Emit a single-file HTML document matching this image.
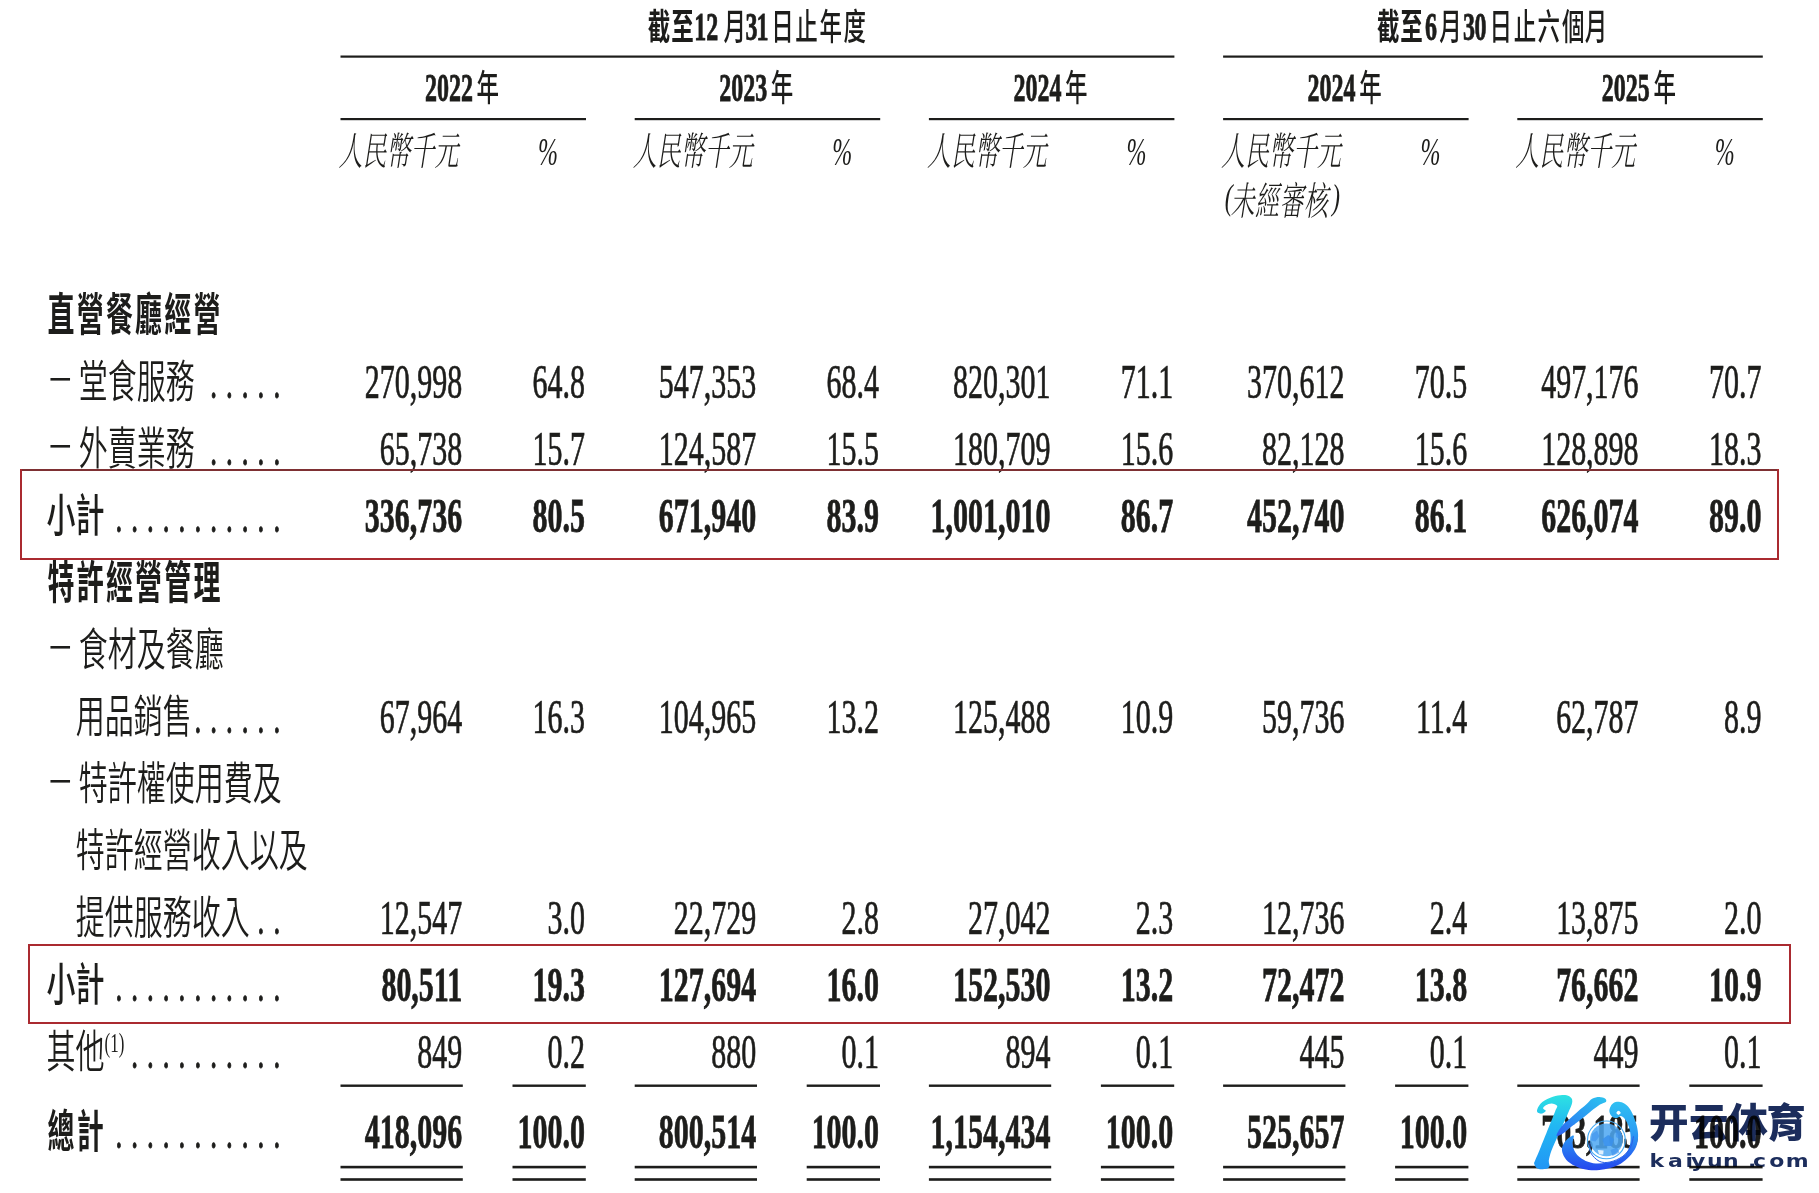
<!DOCTYPE html>
<html lang="zh-Hant"><head><meta charset="utf-8"><title>收入明細</title>
<style>
html,body{margin:0;padding:0;background:#fff;overflow:hidden;}
svg{display:block;}
text{fill:#1d1d1b;}
.n{font-family:"Liberation Serif","Noto Serif CJK TC",serif;font-size:30px;stroke:#1d1d1b;stroke-width:0.45px;}
.nb{font-family:"Liberation Serif","Noto Serif CJK TC",serif;font-size:30px;font-weight:700;stroke:#1d1d1b;stroke-width:0.5px;}
.hc{font-family:"Liberation Sans","Noto Sans CJK TC",sans-serif;font-size:22.5px;font-weight:700;}
.hd{font-family:"Liberation Serif",serif;font-size:24.0px;font-weight:700;stroke:#1d1d1b;stroke-width:0.5px;}
.hm{font-weight:500;}
.par{font-family:"Liberation Serif",serif;font-size:24px;font-style:italic;}
.sub{font-family:"Liberation Serif","Noto Serif CJK TC",serif;font-size:24px;font-style:italic;font-weight:300;}
.pct{font-family:"Liberation Serif",serif;font-size:24px;font-style:italic;}
.l{font-family:"Liberation Sans","Noto Sans CJK TC",sans-serif;font-size:29px;font-weight:350;}
.lm{font-family:"Liberation Sans","Noto Sans CJK TC",sans-serif;font-size:29px;font-weight:500;}
.lb{font-family:"Liberation Sans","Noto Sans CJK TC",sans-serif;font-size:27px;font-weight:700;letter-spacing:2.2px;}
.dash{font-family:"Liberation Sans","Noto Sans CJK TC",sans-serif;font-size:27px;font-weight:400;}
.sup{font-family:"Liberation Serif",serif;font-size:17px;}
.dot{font-family:"Liberation Serif",serif;font-size:27px;font-weight:400;stroke:#1d1d1b;stroke-width:0.6px;}
.wmc{font-family:"Liberation Sans","Noto Sans CJK SC",sans-serif;font-size:39.5px;font-weight:900;fill:#1c2d5c;mix-blend-mode:multiply;}
.wme{font-family:"DejaVu Sans","Liberation Sans",sans-serif;font-size:22px;font-weight:700;fill:#1c2d5c;mix-blend-mode:multiply;}
</style></head>
<body>
<svg width="1819" height="1193" viewBox="0 0 1819 1193">
<rect width="1819" height="1193" fill="#fff"/>
<text class="hc" transform="translate(0 39.7) scale(1 1.63)"><tspan x="647.7">截</tspan><tspan x="671.3">至</tspan><tspan class="hd" x="694.3">1</tspan><tspan class="hd" x="706.2">2</tspan><tspan class="hm" x="723.6">月</tspan><tspan class="hd" x="745.5">3</tspan><tspan class="hd" x="756.6">1</tspan><tspan class="hm" x="771.3">日</tspan><tspan class="hm" x="795.2">止</tspan><tspan class="hm" x="819.6">年</tspan><tspan class="hm" x="843.5">度</tspan></text>
<text class="hc" transform="translate(0 39.7) scale(1 1.63)"><tspan x="1377.0">截</tspan><tspan x="1400.2">至</tspan><tspan class="hd" x="1425.1">6</tspan><tspan class="hm" x="1439.3">月</tspan><tspan class="hd" x="1463.0">3</tspan><tspan class="hd" x="1474.4">0</tspan><tspan class="hm" x="1489.5">日</tspan><tspan class="hm" x="1513.8">止</tspan><tspan class="hm" x="1537.6">六</tspan><tspan class="hm" x="1561.9">個</tspan><tspan class="hm" x="1584.7">月</tspan></text>
<rect x="340.5" y="55.5" width="833.9" height="2.2" fill="#1d1d1b"/>
<rect x="1223.1" y="55.5" width="539.7" height="2.2" fill="#1d1d1b"/>
<text class="hc" transform="translate(0 101.4) scale(1 1.63)"><tspan class="hd" x="425.0">2022</tspan><tspan class="hm" x="476.6">年</tspan></text>
<rect x="340.5" y="118.0" width="245.5" height="2.2" fill="#1d1d1b"/>
<text class="sub" transform="translate(338.5 164.5) scale(1 1.63)">人民幣千元</text>
<text class="pct" transform="translate(538.0 164.5) scale(1 1.63)">%</text>
<text class="hc" transform="translate(0 101.4) scale(1 1.63)"><tspan class="hd" x="719.2">2023</tspan><tspan class="hm" x="770.8">年</tspan></text>
<rect x="634.7" y="118.0" width="245.5" height="2.2" fill="#1d1d1b"/>
<text class="sub" transform="translate(632.7 164.5) scale(1 1.63)">人民幣千元</text>
<text class="pct" transform="translate(832.2 164.5) scale(1 1.63)">%</text>
<text class="hc" transform="translate(0 101.4) scale(1 1.63)"><tspan class="hd" x="1013.4">2024</tspan><tspan class="hm" x="1065.0">年</tspan></text>
<rect x="928.9" y="118.0" width="245.5" height="2.2" fill="#1d1d1b"/>
<text class="sub" transform="translate(926.9 164.5) scale(1 1.63)">人民幣千元</text>
<text class="pct" transform="translate(1126.4 164.5) scale(1 1.63)">%</text>
<text class="hc" transform="translate(0 101.4) scale(1 1.63)"><tspan class="hd" x="1307.6">2024</tspan><tspan class="hm" x="1359.2">年</tspan></text>
<rect x="1223.1" y="118.0" width="245.5" height="2.2" fill="#1d1d1b"/>
<text class="sub" transform="translate(1221.1 164.5) scale(1 1.63)">人民幣千元</text>
<text class="pct" transform="translate(1420.6 164.5) scale(1 1.63)">%</text>
<text class="hc" transform="translate(0 101.4) scale(1 1.63)"><tspan class="hd" x="1601.8">2025</tspan><tspan class="hm" x="1653.4">年</tspan></text>
<rect x="1517.3" y="118.0" width="245.5" height="2.2" fill="#1d1d1b"/>
<text class="sub" transform="translate(1515.3 164.5) scale(1 1.63)">人民幣千元</text>
<text class="pct" transform="translate(1714.8 164.5) scale(1 1.63)">%</text>
<text class="par" transform="translate(1224.8 208.6) scale(1 1.5)">(</text>
<text class="sub" transform="translate(1230.6 215.0) scale(1 1.63)" letter-spacing="0.5">未經審核</text>
<text class="par" transform="translate(1331.9 208.6) scale(1 1.5)">)</text>
<text class="lb" transform="translate(47.5 331.0) scale(1 1.6755555555555557)">直營餐廳經營</text>
<text class="dash" transform="translate(46.8 393.1) scale(1 1.4)">－</text>
<text class="l" transform="translate(78.7 398.0) scale(1 1.56)">堂食服務</text>
<text class="dot" transform="translate(0 398) scale(1 1.63)" x="210.2 226.0 241.8 257.6 273.4" y="0">.....</text>
<text class="n" transform="translate(462.2 398.0) scale(1 1.63)" text-anchor="end">270,998</text>
<text class="n" transform="translate(585.0 398.0) scale(1 1.63)" text-anchor="end">64.8</text>
<text class="n" transform="translate(756.3 398.0) scale(1 1.63)" text-anchor="end">547,353</text>
<text class="n" transform="translate(879.1 398.0) scale(1 1.63)" text-anchor="end">68.4</text>
<text class="n" transform="translate(1050.4 398.0) scale(1 1.63)" text-anchor="end">820,301</text>
<text class="n" transform="translate(1173.2 398.0) scale(1 1.63)" text-anchor="end">71.1</text>
<text class="n" transform="translate(1344.5 398.0) scale(1 1.63)" text-anchor="end">370,612</text>
<text class="n" transform="translate(1467.3 398.0) scale(1 1.63)" text-anchor="end">70.5</text>
<text class="n" transform="translate(1638.6 398.0) scale(1 1.63)" text-anchor="end">497,176</text>
<text class="n" transform="translate(1761.4 398.0) scale(1 1.63)" text-anchor="end">70.7</text>
<text class="dash" transform="translate(46.8 460.1) scale(1 1.4)">－</text>
<text class="l" transform="translate(78.7 465.0) scale(1 1.56)">外賣業務</text>
<text class="dot" transform="translate(0 465) scale(1 1.63)" x="210.2 226.0 241.8 257.6 273.4" y="0">.....</text>
<text class="n" transform="translate(462.2 465.0) scale(1 1.63)" text-anchor="end">65,738</text>
<text class="n" transform="translate(585.0 465.0) scale(1 1.63)" text-anchor="end">15.7</text>
<text class="n" transform="translate(756.3 465.0) scale(1 1.63)" text-anchor="end">124,587</text>
<text class="n" transform="translate(879.1 465.0) scale(1 1.63)" text-anchor="end">15.5</text>
<text class="n" transform="translate(1050.4 465.0) scale(1 1.63)" text-anchor="end">180,709</text>
<text class="n" transform="translate(1173.2 465.0) scale(1 1.63)" text-anchor="end">15.6</text>
<text class="n" transform="translate(1344.5 465.0) scale(1 1.63)" text-anchor="end">82,128</text>
<text class="n" transform="translate(1467.3 465.0) scale(1 1.63)" text-anchor="end">15.6</text>
<text class="n" transform="translate(1638.6 465.0) scale(1 1.63)" text-anchor="end">128,898</text>
<text class="n" transform="translate(1761.4 465.0) scale(1 1.63)" text-anchor="end">18.3</text>
<text class="lm" transform="translate(46.5 532.0) scale(1 1.56)">小計</text>
<text class="dot" transform="translate(0 532) scale(1 1.63)" x="115.4 131.2 147.0 162.8 178.6 194.4 210.2 226.0 241.8 257.6 273.4" y="0">...........</text>
<text class="nb" transform="translate(462.2 532.0) scale(1 1.63)" text-anchor="end">336,736</text>
<text class="nb" transform="translate(585.0 532.0) scale(1 1.63)" text-anchor="end">80.5</text>
<text class="nb" transform="translate(756.3 532.0) scale(1 1.63)" text-anchor="end">671,940</text>
<text class="nb" transform="translate(879.1 532.0) scale(1 1.63)" text-anchor="end">83.9</text>
<text class="nb" transform="translate(1050.4 532.0) scale(1 1.63)" text-anchor="end">1,001,010</text>
<text class="nb" transform="translate(1173.2 532.0) scale(1 1.63)" text-anchor="end">86.7</text>
<text class="nb" transform="translate(1344.5 532.0) scale(1 1.63)" text-anchor="end">452,740</text>
<text class="nb" transform="translate(1467.3 532.0) scale(1 1.63)" text-anchor="end">86.1</text>
<text class="nb" transform="translate(1638.6 532.0) scale(1 1.63)" text-anchor="end">626,074</text>
<text class="nb" transform="translate(1761.4 532.0) scale(1 1.63)" text-anchor="end">89.0</text>
<text class="lb" transform="translate(47.5 599.0) scale(1 1.6755555555555557)">特許經營管理</text>
<text class="dash" transform="translate(46.8 661.1) scale(1 1.4)">－</text>
<text class="l" transform="translate(78.7 666.0) scale(1 1.56)">食材及餐廳</text>
<text class="l" transform="translate(75.8 733.0) scale(1 1.56)">用品銷售</text>
<text class="dot" transform="translate(0 733) scale(1 1.63)" x="194.4 210.2 226.0 241.8 257.6 273.4" y="0">......</text>
<text class="n" transform="translate(462.2 733.0) scale(1 1.63)" text-anchor="end">67,964</text>
<text class="n" transform="translate(585.0 733.0) scale(1 1.63)" text-anchor="end">16.3</text>
<text class="n" transform="translate(756.3 733.0) scale(1 1.63)" text-anchor="end">104,965</text>
<text class="n" transform="translate(879.1 733.0) scale(1 1.63)" text-anchor="end">13.2</text>
<text class="n" transform="translate(1050.4 733.0) scale(1 1.63)" text-anchor="end">125,488</text>
<text class="n" transform="translate(1173.2 733.0) scale(1 1.63)" text-anchor="end">10.9</text>
<text class="n" transform="translate(1344.5 733.0) scale(1 1.63)" text-anchor="end">59,736</text>
<text class="n" transform="translate(1467.3 733.0) scale(1 1.63)" text-anchor="end">11.4</text>
<text class="n" transform="translate(1638.6 733.0) scale(1 1.63)" text-anchor="end">62,787</text>
<text class="n" transform="translate(1761.4 733.0) scale(1 1.63)" text-anchor="end">8.9</text>
<text class="dash" transform="translate(46.8 795.1) scale(1 1.4)">－</text>
<text class="l" transform="translate(78.7 800.0) scale(1 1.56)">特許權使用費及</text>
<text class="l" transform="translate(75.8 867.0) scale(1 1.56)">特許經營收入以及</text>
<text class="l" transform="translate(75.8 934.0) scale(1 1.56)">提供服務收入</text>
<text class="dot" transform="translate(0 934) scale(1 1.63)" x="257.6 273.4" y="0">..</text>
<text class="n" transform="translate(462.2 934.0) scale(1 1.63)" text-anchor="end">12,547</text>
<text class="n" transform="translate(585.0 934.0) scale(1 1.63)" text-anchor="end">3.0</text>
<text class="n" transform="translate(756.3 934.0) scale(1 1.63)" text-anchor="end">22,729</text>
<text class="n" transform="translate(879.1 934.0) scale(1 1.63)" text-anchor="end">2.8</text>
<text class="n" transform="translate(1050.4 934.0) scale(1 1.63)" text-anchor="end">27,042</text>
<text class="n" transform="translate(1173.2 934.0) scale(1 1.63)" text-anchor="end">2.3</text>
<text class="n" transform="translate(1344.5 934.0) scale(1 1.63)" text-anchor="end">12,736</text>
<text class="n" transform="translate(1467.3 934.0) scale(1 1.63)" text-anchor="end">2.4</text>
<text class="n" transform="translate(1638.6 934.0) scale(1 1.63)" text-anchor="end">13,875</text>
<text class="n" transform="translate(1761.4 934.0) scale(1 1.63)" text-anchor="end">2.0</text>
<text class="lm" transform="translate(46.5 1001.0) scale(1 1.56)">小計</text>
<text class="dot" transform="translate(0 1001) scale(1 1.63)" x="115.4 131.2 147.0 162.8 178.6 194.4 210.2 226.0 241.8 257.6 273.4" y="0">...........</text>
<text class="nb" transform="translate(462.2 1001.0) scale(1 1.63)" text-anchor="end">80,511</text>
<text class="nb" transform="translate(585.0 1001.0) scale(1 1.63)" text-anchor="end">19.3</text>
<text class="nb" transform="translate(756.3 1001.0) scale(1 1.63)" text-anchor="end">127,694</text>
<text class="nb" transform="translate(879.1 1001.0) scale(1 1.63)" text-anchor="end">16.0</text>
<text class="nb" transform="translate(1050.4 1001.0) scale(1 1.63)" text-anchor="end">152,530</text>
<text class="nb" transform="translate(1173.2 1001.0) scale(1 1.63)" text-anchor="end">13.2</text>
<text class="nb" transform="translate(1344.5 1001.0) scale(1 1.63)" text-anchor="end">72,472</text>
<text class="nb" transform="translate(1467.3 1001.0) scale(1 1.63)" text-anchor="end">13.8</text>
<text class="nb" transform="translate(1638.6 1001.0) scale(1 1.63)" text-anchor="end">76,662</text>
<text class="nb" transform="translate(1761.4 1001.0) scale(1 1.63)" text-anchor="end">10.9</text>
<text class="l" transform="translate(46.5 1068.0) scale(1 1.56)">其他</text>
<text class="sup" transform="translate(104.6 1052.0) scale(1 1.63)">(1)</text>
<text class="dot" transform="translate(0 1068) scale(1 1.63)" x="131.2 147.0 162.8 178.6 194.4 210.2 226.0 241.8 257.6 273.4" y="0">..........</text>
<text class="n" transform="translate(462.2 1068.0) scale(1 1.63)" text-anchor="end">849</text>
<text class="n" transform="translate(585.0 1068.0) scale(1 1.63)" text-anchor="end">0.2</text>
<text class="n" transform="translate(756.3 1068.0) scale(1 1.63)" text-anchor="end">880</text>
<text class="n" transform="translate(879.1 1068.0) scale(1 1.63)" text-anchor="end">0.1</text>
<text class="n" transform="translate(1050.4 1068.0) scale(1 1.63)" text-anchor="end">894</text>
<text class="n" transform="translate(1173.2 1068.0) scale(1 1.63)" text-anchor="end">0.1</text>
<text class="n" transform="translate(1344.5 1068.0) scale(1 1.63)" text-anchor="end">445</text>
<text class="n" transform="translate(1467.3 1068.0) scale(1 1.63)" text-anchor="end">0.1</text>
<text class="n" transform="translate(1638.6 1068.0) scale(1 1.63)" text-anchor="end">449</text>
<text class="n" transform="translate(1761.4 1068.0) scale(1 1.63)" text-anchor="end">0.1</text>
<text class="lb" transform="translate(47.5 1148.0) scale(1 1.6755555555555557)">總計</text>
<text class="dot" transform="translate(0 1148) scale(1 1.63)" x="115.4 131.2 147.0 162.8 178.6 194.4 210.2 226.0 241.8 257.6 273.4" y="0">...........</text>
<text class="nb" transform="translate(462.2 1148.0) scale(1 1.63)" text-anchor="end">418,096</text>
<text class="nb" transform="translate(585.0 1148.0) scale(1 1.63)" text-anchor="end">100.0</text>
<text class="nb" transform="translate(756.3 1148.0) scale(1 1.63)" text-anchor="end">800,514</text>
<text class="nb" transform="translate(879.1 1148.0) scale(1 1.63)" text-anchor="end">100.0</text>
<text class="nb" transform="translate(1050.4 1148.0) scale(1 1.63)" text-anchor="end">1,154,434</text>
<text class="nb" transform="translate(1173.2 1148.0) scale(1 1.63)" text-anchor="end">100.0</text>
<text class="nb" transform="translate(1344.5 1148.0) scale(1 1.63)" text-anchor="end">525,657</text>
<text class="nb" transform="translate(1467.3 1148.0) scale(1 1.63)" text-anchor="end">100.0</text>
<text class="nb" transform="translate(1638.6 1148.0) scale(1 1.63)" text-anchor="end">703,185</text>
<text class="nb" transform="translate(1761.4 1148.0) scale(1 1.63)" text-anchor="end">100.0</text>
<rect x="340.5" y="1084.5" width="122.3" height="2.4" fill="#1d1d1b"/>
<rect x="512.5" y="1084.5" width="73.3" height="2.4" fill="#1d1d1b"/>
<rect x="340.5" y="1165.8" width="122.3" height="2.6" fill="#1d1d1b"/>
<rect x="512.5" y="1165.8" width="73.3" height="2.6" fill="#1d1d1b"/>
<rect x="340.5" y="1178.2" width="122.3" height="2.6" fill="#1d1d1b"/>
<rect x="512.5" y="1178.2" width="73.3" height="2.6" fill="#1d1d1b"/>
<rect x="634.7" y="1084.5" width="122.3" height="2.4" fill="#1d1d1b"/>
<rect x="806.7" y="1084.5" width="73.3" height="2.4" fill="#1d1d1b"/>
<rect x="634.7" y="1165.8" width="122.3" height="2.6" fill="#1d1d1b"/>
<rect x="806.7" y="1165.8" width="73.3" height="2.6" fill="#1d1d1b"/>
<rect x="634.7" y="1178.2" width="122.3" height="2.6" fill="#1d1d1b"/>
<rect x="806.7" y="1178.2" width="73.3" height="2.6" fill="#1d1d1b"/>
<rect x="928.9" y="1084.5" width="122.3" height="2.4" fill="#1d1d1b"/>
<rect x="1100.9" y="1084.5" width="73.3" height="2.4" fill="#1d1d1b"/>
<rect x="928.9" y="1165.8" width="122.3" height="2.6" fill="#1d1d1b"/>
<rect x="1100.9" y="1165.8" width="73.3" height="2.6" fill="#1d1d1b"/>
<rect x="928.9" y="1178.2" width="122.3" height="2.6" fill="#1d1d1b"/>
<rect x="1100.9" y="1178.2" width="73.3" height="2.6" fill="#1d1d1b"/>
<rect x="1223.1" y="1084.5" width="122.3" height="2.4" fill="#1d1d1b"/>
<rect x="1395.1" y="1084.5" width="73.3" height="2.4" fill="#1d1d1b"/>
<rect x="1223.1" y="1165.8" width="122.3" height="2.6" fill="#1d1d1b"/>
<rect x="1395.1" y="1165.8" width="73.3" height="2.6" fill="#1d1d1b"/>
<rect x="1223.1" y="1178.2" width="122.3" height="2.6" fill="#1d1d1b"/>
<rect x="1395.1" y="1178.2" width="73.3" height="2.6" fill="#1d1d1b"/>
<rect x="1517.3" y="1084.5" width="122.3" height="2.4" fill="#1d1d1b"/>
<rect x="1689.3" y="1084.5" width="73.3" height="2.4" fill="#1d1d1b"/>
<rect x="1517.3" y="1165.8" width="122.3" height="2.6" fill="#1d1d1b"/>
<rect x="1689.3" y="1165.8" width="73.3" height="2.6" fill="#1d1d1b"/>
<rect x="1517.3" y="1178.2" width="122.3" height="2.6" fill="#1d1d1b"/>
<rect x="1689.3" y="1178.2" width="73.3" height="2.6" fill="#1d1d1b"/>
<rect x="20.0" y="469.0" width="1759.0" height="2.0" fill="#7e3033"/>
<rect x="20.0" y="558.0" width="1759.0" height="2.0" fill="#aa2a30"/>
<rect x="20.0" y="469.0" width="2.0" height="91.0" fill="#aa2a30"/>
<rect x="1777.0" y="469.0" width="2.0" height="91.0" fill="#aa2a30"/>
<rect x="28.0" y="944.0" width="1763.0" height="2.0" fill="#aa2a30"/>
<rect x="28.0" y="1022.0" width="1763.0" height="2.0" fill="#aa2a30"/>
<rect x="28.0" y="944.0" width="2.0" height="80.0" fill="#aa2a30"/>
<rect x="1789.0" y="944.0" width="2.0" height="80.0" fill="#aa2a30"/>

<defs>
<linearGradient id="gStem" x1="0" y1="0" x2="0" y2="1">
 <stop offset="0" stop-color="#2de2e2"/><stop offset="0.4" stop-color="#22b8f2"/><stop offset="1" stop-color="#2196f5"/>
</linearGradient>
<linearGradient id="gArm" x1="1" y1="0" x2="0" y2="1">
 <stop offset="0" stop-color="#2cc4ef"/><stop offset="0.6" stop-color="#2a90f2"/><stop offset="1" stop-color="#2c5ff0"/>
</linearGradient>
<linearGradient id="gLeg" x1="0" y1="0" x2="0" y2="1">
 <stop offset="0" stop-color="#30c0f2"/><stop offset="0.45" stop-color="#2a9cf4"/><stop offset="1" stop-color="#2446ee"/>
</linearGradient>
</defs>
<g>
<path fill="url(#gStem)" d="M1537.3 1109.2 C1538.0 1107.5 1539.6 1104.2 1542.3 1102.1 C1544.9 1100.0 1549.6 1098.0 1552.9 1096.8 C1556.3 1095.6 1559.5 1095.1 1562.2 1095.0 C1564.9 1094.9 1567.7 1095.1 1569.3 1096.3 C1571.0 1097.4 1572.6 1098.9 1572.3 1101.8 C1572.1 1104.6 1570.2 1108.1 1567.9 1113.5 C1565.6 1118.9 1561.4 1128.0 1558.6 1134.2 C1555.9 1140.4 1553.2 1146.2 1551.5 1150.6 C1549.9 1155.0 1549.2 1157.9 1548.8 1160.6 C1548.5 1163.2 1550.0 1165.2 1549.4 1166.6 C1548.8 1168.0 1547.1 1168.8 1545.1 1169.1 C1543.1 1169.4 1539.1 1169.2 1537.3 1168.4 C1535.5 1167.6 1534.6 1165.4 1534.3 1164.1 C1533.9 1162.8 1534.0 1163.4 1535.1 1160.6 C1536.2 1157.7 1538.5 1152.8 1540.8 1147.0 C1543.2 1141.2 1547.0 1131.6 1549.4 1125.6 C1551.8 1119.7 1553.8 1114.7 1555.1 1111.4 C1556.4 1108.1 1557.7 1107.1 1557.1 1105.8 C1556.5 1104.5 1553.4 1103.6 1551.5 1103.5 C1549.6 1103.5 1547.2 1104.5 1545.8 1105.3 C1544.4 1106.1 1543.1 1107.5 1543.1 1108.4 C1543.1 1109.3 1546.0 1109.8 1545.8 1110.7 C1545.7 1111.5 1543.6 1113.2 1542.3 1113.5 C1540.9 1113.9 1538.8 1113.5 1538.0 1112.8 C1537.1 1112.1 1536.6 1111.0 1537.3 1109.2 Z"/>
<path fill="url(#gArm)" d="M1556.5 1135.6 C1556.3 1134.4 1559.2 1129.2 1561.5 1126.4 C1563.8 1123.5 1567.3 1121.0 1570.1 1118.5 C1572.8 1116.0 1575.2 1113.8 1577.9 1111.4 C1580.6 1109.0 1584.1 1106.4 1586.4 1104.3 C1588.8 1102.1 1590.0 1099.9 1592.1 1098.7 C1594.3 1097.5 1597.1 1097.0 1599.3 1097.0 C1601.5 1097.0 1604.2 1097.9 1605.3 1098.7 C1606.4 1099.5 1606.7 1101.0 1605.8 1102.0 C1604.9 1103.0 1602.5 1103.0 1600.0 1104.6 C1597.5 1106.2 1593.7 1109.1 1590.7 1111.4 C1587.8 1113.7 1585.3 1116.1 1582.2 1118.5 C1579.1 1120.9 1575.5 1123.4 1572.2 1126.0 C1568.9 1128.5 1565.2 1132.2 1562.6 1133.8 C1560.0 1135.4 1556.7 1136.9 1556.5 1135.6 Z"/>
<path fill="url(#gLeg)" fill-rule="evenodd" d="M1573.6 1135.6 C1572.6 1135.0 1568.4 1138.0 1566.5 1139.9 C1564.6 1141.8 1562.8 1144.6 1562.2 1147.0 C1561.6 1149.4 1562.0 1151.7 1562.9 1154.1 C1563.9 1156.6 1565.4 1159.4 1567.9 1161.6 C1570.4 1163.8 1574.4 1165.9 1577.9 1167.3 C1581.3 1168.7 1585.0 1169.5 1588.6 1170.0 C1592.1 1170.4 1595.7 1170.4 1599.3 1170.1 C1602.8 1169.8 1606.4 1169.0 1610.0 1168.0 C1613.5 1166.9 1617.4 1165.6 1620.7 1163.7 C1623.9 1161.8 1627.0 1159.1 1629.6 1156.3 C1632.1 1153.5 1634.6 1150.3 1636.0 1147.0 C1637.4 1143.7 1638.0 1139.9 1638.1 1136.3 C1638.2 1132.8 1637.6 1129.4 1636.7 1125.6 C1635.7 1121.8 1634.1 1116.9 1632.4 1113.5 C1630.8 1110.1 1628.8 1107.2 1626.7 1105.3 C1624.6 1103.4 1622.2 1102.3 1619.9 1102.0 C1617.7 1101.6 1614.8 1102.2 1613.2 1103.2 C1611.5 1104.2 1610.6 1106.3 1610.0 1107.8 C1609.4 1109.4 1609.2 1110.9 1609.6 1112.5 C1610.0 1114.0 1611.2 1116.0 1612.5 1116.9 C1613.7 1117.9 1615.7 1118.1 1617.1 1117.9 C1618.5 1117.8 1619.6 1115.7 1621.0 1116.0 C1622.4 1116.3 1624.2 1117.7 1625.6 1119.9 C1627.1 1122.1 1628.7 1125.9 1629.6 1129.2 C1630.4 1132.5 1630.8 1136.6 1630.6 1139.9 C1630.5 1143.2 1629.6 1146.5 1628.5 1149.2 C1627.4 1151.8 1625.9 1153.7 1623.9 1155.6 C1621.8 1157.4 1619.3 1159.0 1616.4 1160.2 C1613.5 1161.4 1609.8 1162.2 1606.4 1162.7 C1603.0 1163.2 1599.2 1163.7 1595.7 1163.4 C1592.3 1163.1 1588.6 1162.1 1585.7 1160.9 C1582.9 1159.7 1580.5 1158.0 1578.6 1156.3 C1576.7 1154.6 1575.3 1152.7 1574.3 1150.6 C1573.3 1148.4 1572.7 1146.0 1572.5 1143.5 C1572.4 1141.0 1574.6 1136.2 1573.6 1135.6 Z M1618.5 1110.7 C1619.2 1110.7 1620.7 1112.1 1620.7 1112.8 C1620.7 1113.5 1619.2 1114.9 1618.5 1114.9 C1617.8 1114.9 1616.4 1113.5 1616.4 1112.8 C1616.4 1112.1 1617.8 1110.7 1618.5 1110.7 Z"/>
<path fill="none" stroke="#2a5ee8" stroke-width="1" d="M1590.0 1142.7 C1590.1 1144.4 1589.2 1149.6 1590.7 1152.7 C1592.3 1155.8 1596.1 1159.7 1599.3 1161.3 C1602.5 1162.8 1606.0 1162.8 1610.0 1162.0 C1613.9 1161.2 1619.4 1158.8 1622.8 1156.3 C1626.2 1153.8 1628.9 1150.3 1630.6 1147.0 C1632.4 1143.7 1633.0 1138.1 1633.5 1136.3 "/>
<circle cx="1606.4" cy="1139.9" r="18.9" fill="none" stroke="#44aaf4" stroke-width="1.1"/>
<circle cx="1606.4" cy="1139.9" r="16.4" fill="#4ea8f2" fill-opacity="0.86"/>
<path fill="#3a90ec" fill-opacity="0.85" d="M1608.2 1134.9 L1614.1 1139.2 L1611.8 1146.1 L1604.6 1146.1 L1602.3 1139.2 Z"/>
<path fill="#ffffff" fill-opacity="0.8" d="M1597.8 1150 L1603.6 1150.5 L1603.2 1154.6 L1599 1154.2 Z"/>
<path fill="#3a90ec" fill-opacity="0.6" d="M1592 1134 L1597 1130.5 L1599.4 1136.5 L1595.4 1141.5 L1591 1140.5 Z"/>
<path fill="#3a90ec" fill-opacity="0.6" d="M1615.5 1129 L1621.5 1133.5 L1621 1140 L1616 1137 Z"/>
<path fill="#3a90ec" fill-opacity="0.6" d="M1610.5 1150 L1617 1147.5 L1619.5 1152.5 L1612.5 1156 Z"/>
</g>
<text class="wmc" x="1649.0 1689.0 1728.2 1766.6" y="1137.1">开云体育</text>
<text class="wme" transform="translate(0 1166.8) scale(1 0.79)" x="1649.6 1668.1 1685.4 1691.0 1706.9 1723.1 1747.9 1753.0 1769.3 1785.8" y="0">kaiyun.com</text>

</svg>
</body></html>
